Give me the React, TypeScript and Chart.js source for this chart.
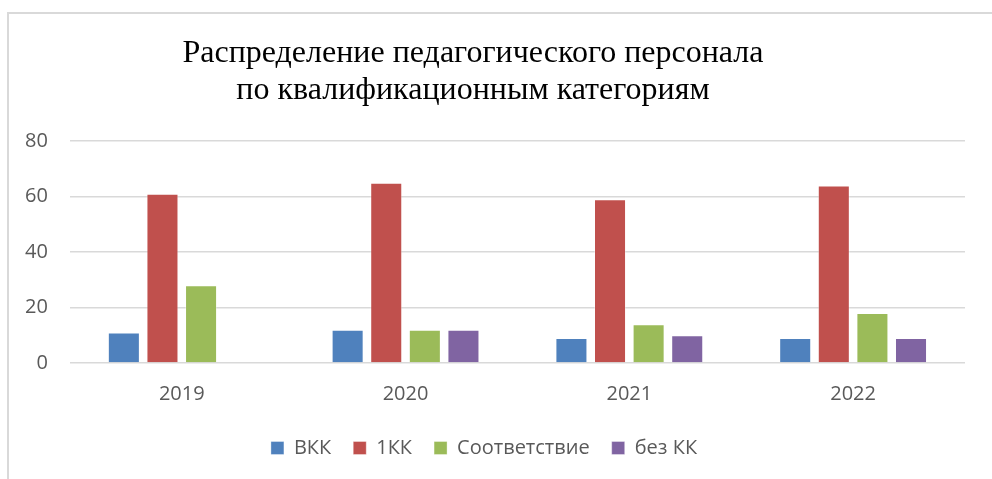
import React, { useEffect, useRef } from "react";
import { Chart, registerables } from "chart.js";

Chart.register(...registerables);

const categories = ["2019", "2020", "2021", "2022"];
const seriesNames = ["ВКК", "1КК", "Соответствие", "без КК"];
const vkk = [11, 12, 9, 9];
const kk1 = [61, 65, 59, 64];
const sootv = [28, 12, 14, 18];
const bezKK = [null, 12, 10, 9];
const yTicks = [0, 20, 40, 60, 80];
const titleLines = ["Распределение педагогического персонала", "по квалификационным категориям"];

const colors = ["#4F81BD", "#C0504D", "#9BBB59", "#8064A2"];
const textColor = "#595959";
const font = "Open Sans";

const titlePlugin = {
  id: "customTitle",
  afterDraw(chart: any) {
    const ctx = chart.ctx;
    ctx.save();
    ctx.fillStyle = "#000000";
    ctx.font = "32px 'Liberation Serif'";
    ctx.textAlign = "center";
    ctx.textBaseline = "alphabetic";
    ctx.fillText(titleLines[0], 473, 62);
    ctx.fillText(titleLines[1], 473, 99);
    ctx.restore();
  },
};

export default function App() {
  const ref = useRef<HTMLCanvasElement>(null);
  useEffect(() => {
    document.body.style.margin = "0";
    const data = [vkk, kk1, sootv, bezKK];
    const chart = new Chart(ref.current!, {
      type: "bar",
      data: {
        labels: categories,
        datasets: seriesNames.map((name, i) => ({
          label: name,
          data: data[i] as any,
          backgroundColor: colors[i],
          borderColor: "rgba(255,255,255,0.35)",
          borderWidth: 1,
          categoryPercentage: 0.69,
          barPercentage: 0.83,
        })),
      },
      options: {
        animation: false,
        responsive: false,
        maintainAspectRatio: false,
        layout: { padding: { top: 141, right: 27, left: 3, bottom: 11 } },
        plugins: {
          title: { display: false },
          tooltip: { enabled: false },
          legend: {
            position: "bottom",
            labels: {
              color: textColor,
              font: { family: font, size: 20 },
              boxWidth: 13,
              boxHeight: 13,
              padding: 22,
            },
          },
        },
        scales: {
          x: {
            grid: { display: false, drawTicks: false },
            border: { display: false },
            ticks: { color: textColor, font: { family: font, size: 20 }, padding: 19 },
            afterFit: (scale: any) => {
              scale.height = scale.height - 9;
            },
          },
          y: {
            min: 0,
            max: 80,
            afterBuildTicks: (axis: any) => {
              axis.ticks = yTicks.map((v) => ({ value: v }));
            },
            grid: { color: "#d9d9d9", lineWidth: 1.5, drawTicks: false },
            border: { display: false },
            ticks: { color: textColor, font: { family: font, size: 20 }, padding: 22 },
          },
        },
      },
      plugins: [titlePlugin],
    });
    return () => chart.destroy();
  }, []);
  return (
    <div style={{ position: "relative", width: 992, height: 479, background: "#fff" }}>
      <canvas ref={ref} width={992} height={479} style={{ display: "block" }} />
      <div
        style={{
          position: "absolute",
          left: 7,
          top: 12,
          right: 0,
          bottom: 0,
          borderLeft: "2px solid #d9d9d9",
          borderTop: "2px solid #d9d9d9",
          pointerEvents: "none",
        }}
      />
    </div>
  );
}
